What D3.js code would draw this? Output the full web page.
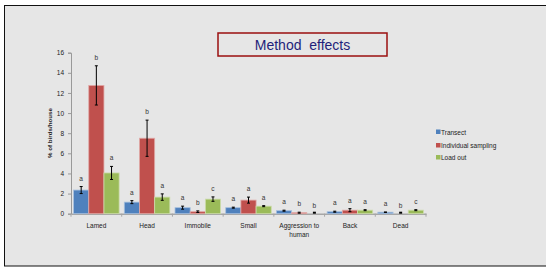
<!DOCTYPE html>
<html><head><meta charset="utf-8">
<script src="https://cdn.jsdelivr.net/npm/d3@7"></script>
<style>body{margin:0;background:#fff}svg{display:block}</style>
</head><body>
<script>
const categories = ["Lamed","Head","Immobile","Small","Aggression to human","Back","Dead"];
const seriesNames = ["Transect","Individual sampling","Load out"];
const transect = [2.35,1.15,0.6,0.6,0.3,0.2,0.15];
const individual = [12.75,7.5,0.2,1.35,0.1,0.35,0.0];
const loadout = [4.05,1.65,1.45,0.75,0.0,0.35,0.35];
const transectErr = [0.35,0.15,0.15,0.05,0.05,0.05,0.02];
const individualErr = [1.95,1.8,0.08,0.3,0.05,0.15,0.0];
const loadoutErr = [0.65,0.32,0.22,0.05,0.0,0.05,0.05];
const transectSig = ["a","a","a","a","a","a","a"];
const individualSig = ["b","b","b","a","b","a","b"];
const loadoutSig = ["a","a","c","a","b","a","c"];
const yTicks = [0,2,4,6,8,10,12,14,16];
const colors = ["#4f81bd","#c0504d","#9bbb59"];
const edge = ["#a7c0de","#e0a8a6","#cddcac"];

const W=546,H=267;
const svg=d3.select("body").append("svg").attr("width",W).attr("height",H);
svg.append("rect").attr("width",W).attr("height",H).attr("fill","#fff");
svg.append("rect").attr("x",4.5).attr("y",5.5).attr("width",W).attr("height",260.5)
  .attr("fill","#e6e6e6").attr("stroke","#111").attr("stroke-width",1);

const x=d3.scaleBand().domain(categories).range([71,426]).paddingInner(0).paddingOuter(0);
const y=d3.scaleLinear().domain([0,16]).range([213.7,52.7]);
const xs=d3.scaleBand().domain([0,1,2]).range([0,x.bandwidth()]).paddingInner(0).paddingOuter(0.17);

// y axis
const yAxis=svg.append("g").attr("transform","translate(71,0)")
  .call(d3.axisLeft(y).tickValues(yTicks).tickSize(3).tickFormat(d3.format("d")));
yAxis.select(".domain").attr("stroke","#999");
yAxis.selectAll(".tick line").attr("stroke","#999");
yAxis.selectAll("text").attr("font-family","Liberation Sans, Arial, sans-serif").attr("font-size",6.5).attr("fill","#222").attr("dx",-1);

// x axis
const xAxis=svg.append("g").attr("transform",`translate(0,${y(0)})`)
  .call(d3.axisBottom(x).tickSize(0).tickFormat(""));
xAxis.select(".domain").attr("stroke","#a6a6a6").attr("stroke-width",1.5);
const bounds=categories.map(c=>x(c)).concat([x(categories[categories.length-1])+x.bandwidth()]);
svg.selectAll("line.xt").data(bounds).enter().append("line")
  .attr("x1",d=>d).attr("x2",d=>d).attr("y1",y(0)).attr("y2",y(0)+3).attr("stroke","#a6a6a6");

const data=[transect,individual,loadout];
const errs=[transectErr,individualErr,loadoutErr];
const sigs=[transectSig,individualSig,loadoutSig];

const g=svg.append("g");
categories.forEach((c,i)=>{
  [0,1,2].forEach(s=>{
    const v=data[s][i], e=errs[s][i];
    const bx=x(c)+xs(s), bw=xs.bandwidth();
    g.append("rect").attr("x",bx).attr("y",y(v)).attr("width",bw).attr("height",Math.max(0,y(0)-y(v)))
      .attr("fill",colors[s]).attr("stroke",edge[s]).attr("stroke-width",0.8);
    const cx=bx+bw/2;
    if(e>0){
      g.append("line").attr("x1",cx).attr("x2",cx).attr("y1",y(v+e)).attr("y2",y(v-e)).attr("stroke","#000").attr("stroke-width",1);
      [v+e,v-e].forEach(t=>g.append("line").attr("x1",cx-1.5).attr("x2",cx+1.5).attr("y1",y(t)).attr("y2",y(t)).attr("stroke","#000").attr("stroke-width",1));
    } else {
      g.append("rect").attr("x",cx-1.5).attr("y",y(v)-2).attr("width",3).attr("height",2).attr("fill","#000");
    }
    g.append("text").attr("x",cx).attr("y",y(v+e)-6).attr("text-anchor","middle")
      .attr("font-family","Liberation Sans, Arial, sans-serif").attr("font-size",6.5).attr("fill","#333").text(sigs[s][i]);
  });
  const words=c==="Aggression to human"?["Aggression to","human"]:[c];
  words.forEach((w,k)=>svg.append("text").attr("x",x(c)+x.bandwidth()/2).attr("y",228+k*8.5)
    .attr("text-anchor","middle").attr("font-family","Liberation Sans, Arial, sans-serif").attr("font-size",6.5).attr("fill","#222").text(w));
});

// y label
svg.append("text").attr("transform","translate(52,133) rotate(-90)").attr("text-anchor","middle")
  .attr("font-family","Liberation Sans, Arial, sans-serif").attr("font-size",6.2).attr("font-weight","bold").attr("fill","#222").text("% of birds/house");

// title
svg.append("rect").attr("x",218).attr("y",33).attr("width",169).attr("height",23)
  .attr("fill","none").attr("stroke","#9b0f0f").attr("stroke-width",1.5);
svg.append("text").attr("x",302.5).attr("y",49.5).attr("text-anchor","middle").attr("xml:space","preserve")
  .attr("font-family","Liberation Sans, Arial, sans-serif").attr("font-size",14).attr("fill","#1f1f7a").text("Method  effects");

// legend
const ly=[132.5,146,158];
seriesNames.forEach((n,s)=>{
  svg.append("rect").attr("x",436).attr("y",ly[s]-3).attr("width",4.5).attr("height",4.5).attr("fill",colors[s]);
  svg.append("text").attr("x",441).attr("y",ly[s]+2).attr("font-family","Liberation Sans, Arial, sans-serif")
    .attr("font-size",6.5).attr("fill","#222").text(n);
});
</script>
</body></html>
